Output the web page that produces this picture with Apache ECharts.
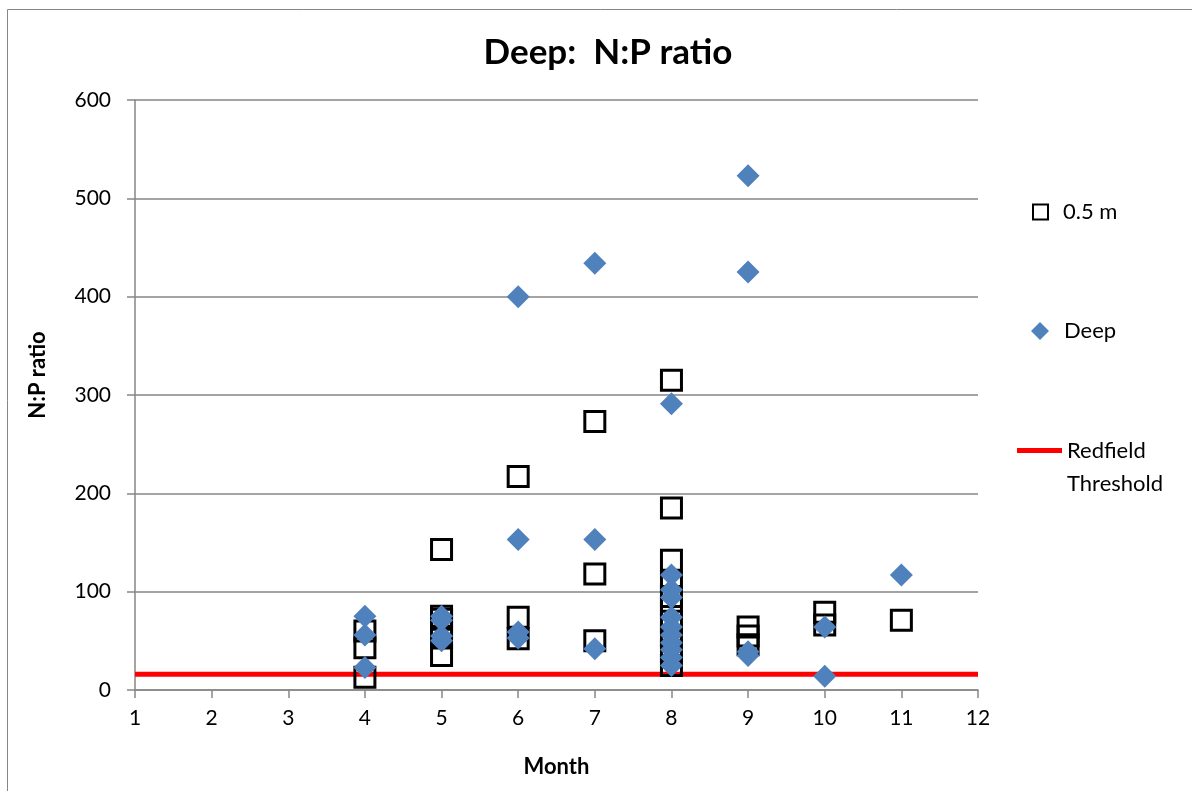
<!DOCTYPE html>
<html>
<head>
<meta charset="utf-8">
<script src="https://cdn.jsdelivr.net/npm/echarts@6/dist/echarts.min.js"></script>
<style>
  html, body { margin: 0; padding: 0; background: #fff; }
  #chart { width: 1192px; height: 791px; }
</style>
</head>
<body>
<div id="chart"></div>
<script>
// 0.5 m samples: month, N:P ratio
let shallowMonth = [4, 4, 4, 5, 5, 5, 5, 5, 6, 6, 6, 7, 7, 7,
    8, 8, 8, 8, 8, 8, 8, 8, 8, 8, 9, 9, 9, 10, 10, 11];
let shallowRatio = [60, 43, 13, 143, 75, 72, 53, 35, 217, 74, 52, 273, 118, 50,
    315, 185, 132, 110, 95, 84, 70, 55, 40, 25, 64, 55, 46, 79, 66, 71];

// deep samples
let deepMonth = [4, 4, 4, 5, 5, 5, 5, 6, 6, 6, 6, 7, 7, 7,
    8, 8, 8, 8, 8, 8, 8, 8, 8, 8, 8, 9, 9, 9, 9, 10, 10, 11];
let deepRatio = [75, 56, 23, 75, 71, 55, 50, 400, 153, 59, 53, 434, 153, 42,
    291, 117, 102, 94, 74, 64, 56, 48, 41, 33, 25, 523, 425, 39, 35, 64, 14, 117];

// redfield N:P = 16
let redfieldMonth = [1, 12];
let redfieldRatio = [16, 16];

let font = 'Lato, "Noto Sans", sans-serif';
let gray = '#868686';

function pairs(xs, ys) {
    return xs.map((x, i) => [x, ys[i]]);
}

let option = {
    animation: false,
    backgroundColor: '#fff',
    textStyle: { fontFamily: font },
    graphic: [{
        type: 'rect',
        shape: { x: 7.5, y: 9.5, width: 1200, height: 800 },
        style: { fill: 'none', stroke: gray, lineWidth: 1 },
        silent: true
    }],
    title: {
        text: 'Deep:  N:P ratio',
        left: 603,
        textAlign: 'center',
        top: 30,
        textStyle: { fontFamily: font, fontSize: 35, fontWeight: 'bold', color: '#000' }
    },
    grid: { left: 135, right: 214, top: 100, bottom: 101 },
    legend: [{
        data: ['0.5 m'],
        orient: 'vertical',
        left: 1027,
        top: 196,
        itemWidth: 15,
        itemHeight: 15,
        textStyle: { fontFamily: font, fontSize: 22, color: '#000', padding: [0, 0, 0, 10] }
    }, {
        data: ['Deep'],
        orient: 'vertical',
        left: 1026,
        top: 315,
        itemWidth: 18,
        itemHeight: 18,
        textStyle: { fontFamily: font, fontSize: 22, color: '#000', padding: [0, 0, 0, 10] }
    }, {
        data: [{ name: 'Redfield Threshold', icon: 'rect' }],
        orient: 'vertical',
        left: 1012,
        top: 396,
        itemWidth: 45,
        itemHeight: 5,
        formatter: name => '\n' + name.replace(' ', '\n'),
        textStyle: { fontFamily: font, fontSize: 22, color: '#000', lineHeight: 33 }
    }],
    xAxis: {
        type: 'value',
        min: 1,
        max: 12,
        interval: 1,
        name: 'Month',
        nameLocation: 'middle',
        nameGap: 66,
        nameTextStyle: { fontFamily: font, fontSize: 22, fontWeight: 'bold', color: '#000' },
        axisLine: { show: true, lineStyle: { color: gray, width: 1.5 } },
        axisTick: { show: true, length: 8, lineStyle: { color: gray, width: 1.5 } },
        axisLabel: { fontFamily: font, fontSize: 21, color: '#000', margin: 18 },
        splitLine: { show: false }
    },
    yAxis: {
        type: 'value',
        min: 0,
        max: 600,
        interval: 100,
        name: 'N:P ratio',
        nameLocation: 'middle',
        nameGap: 86,
        nameTextStyle: { fontFamily: font, fontSize: 22, fontWeight: 'bold', color: '#000', padding: [0, 0, 0, 40] },
        axisLine: { show: true, lineStyle: { color: gray, width: 1.5 } },
        axisTick: { show: true, length: 8, lineStyle: { color: gray, width: 1.5 } },
        axisLabel: { fontFamily: font, fontSize: 21, color: '#000', margin: 24 },
        splitLine: { show: true, lineStyle: { color: gray, width: 1.5 } }
    },
    series: [{
        name: 'Redfield Threshold',
        type: 'line',
        data: pairs(redfieldMonth, redfieldRatio),
        symbol: 'none',
        lineStyle: { color: '#FF0000', width: 5 },
        itemStyle: { color: '#FF0000' },
        z: 2
    }, {
        name: '0.5 m',
        type: 'scatter',
        data: pairs(shallowMonth, shallowRatio),
        symbol: 'rect',
        symbolSize: 20,
        itemStyle: { color: 'rgba(0,0,0,0)', borderColor: '#000', borderWidth: 3, opacity: 1 },
        z: 3
    }, {
        name: 'Deep',
        type: 'scatter',
        data: pairs(deepMonth, deepRatio),
        symbol: 'diamond',
        symbolSize: 23,
        itemStyle: { color: '#4F81BD', opacity: 1 },
        z: 4
    }]
};

echarts.init(document.getElementById('chart')).setOption(option);
</script>
</body>
</html>
